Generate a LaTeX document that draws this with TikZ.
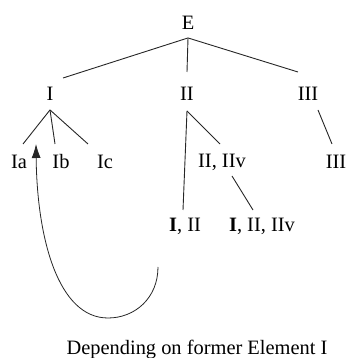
\documentclass[tikz,border=0pt]{standalone}
\usepackage{fontspec}
\setmainfont{Liberation Serif}
\usetikzlibrary{arrows.meta}
\begin{document}
\begin{tikzpicture}[x=1bp,y=1bp,
  lbl/.style={inner sep=0pt,font=\fontsize{20.5}{24}\selectfont},
  edge/.style={line width=0.9bp,black!85}]
\useasboundingbox (0,0) rectangle (346,358);
\node[lbl] (E) at (188,335) {E};
\node[lbl] (I) at (50,264) {I};
\node[lbl] (II) at (187,264) {II};
\node[lbl] (III) at (308,264) {III};
\node[lbl] (Ia) at (19,196) {Ia};
\node[lbl] (Ib) at (61,196) {Ib};
\node[lbl] (Ic) at (105,196) {Ic};
\node[lbl] (IIv) at (222,196) {II, IIv};
\node[lbl] (IIIb) at (336,196) {III};
\node[lbl] (III2) at (185,132) {\textbf{I}, II};
\node[lbl] (IIIv2) at (262,132) {\textbf{I}, II, IIv};
\node[lbl] (cap) at (197,8) {Depending on former Element I};
% E edges
\draw[edge] ([yshift=-15]E.center) -- ([shift={(13,16)}]I.center);
\draw[edge] ([yshift=-15]E.center) -- ([shift={(0,22)}]II.center);
\draw[edge] ([yshift=-15]E.center) -- ([shift={(-10,22)}]III.center);
% I edges
\draw[edge] ([yshift=-16]I.center) -- ([shift={(4,18)}]Ia.center);
\draw[edge] ([yshift=-16]I.center) -- ([shift={(-6,18)}]Ib.center);
\draw[edge] ([yshift=-16]I.center) -- ([shift={(-17,18)}]Ic.center);
% II edges
\draw[edge] ([yshift=-17]II.center) -- ([shift={(-2,16)}]III2.center);
\draw[edge] ([yshift=-17]II.center) -- ([shift={(-2,18)}]IIv.center);
\draw[edge] ([shift={(10,-14)}]IIv.center) -- ([shift={(-9,16)}]IIIv2.center);
% III edge
\draw[edge] ([shift={(10,-16)}]III.center) -- ([shift={(-4,18)}]IIIb.center);
% arrow curve
\coordinate (cs) at (158,91);
\draw[line width=0.8bp,black!85,-{Latex[length=14bp,width=9bp]}]
  (cs) .. controls (158,60) and (135,40) .. (108,40)
  .. controls (58,40) and (37,120) .. ([shift={(17,18)}]Ia.center);
\end{tikzpicture}
\end{document}
